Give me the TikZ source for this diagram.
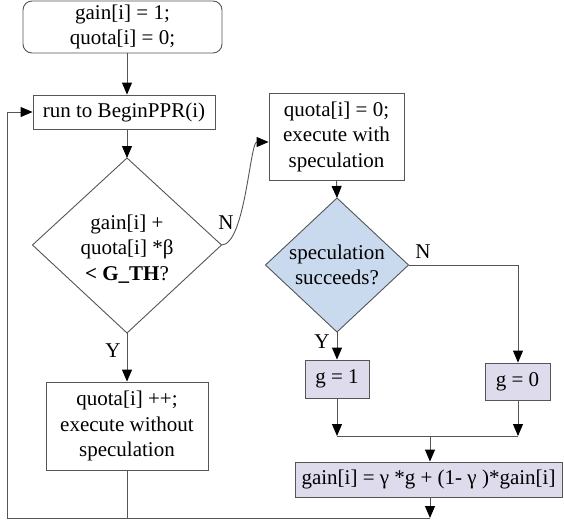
\documentclass[tikz,border=0pt]{standalone}
\usepackage{fontspec}
\setmainfont{Liberation Serif}
\usetikzlibrary{arrows.meta,shapes.geometric,calc}
\definecolor{dblue}{HTML}{C9DAEE}
\definecolor{lav}{HTML}{DDDBEC}
\definecolor{lin}{HTML}{555555}
\begin{document}
\begin{tikzpicture}[x=1pt,y=-1pt,
  every node/.style={font=\fontsize{21}{25.5}\selectfont},
  box/.style={draw=lin,line width=0.9pt,align=center,inner sep=0pt},
  conn/.style={draw=lin,line width=0.9pt},
  arr/.style={conn,-{Triangle[length=12pt,width=10pt,color=black]}},
  lbl/.style={inner sep=0pt}]
\useasboundingbox (0,0) rectangle (564,525);
% nodes
\node[box,rounded corners=9pt,minimum width=199pt,minimum height=52pt] (start) at (122.5,27) {gain[i] = 1;\\quota[i] = 0;};
\node[box,minimum width=182pt,minimum height=34pt] (run) at (124,112) {run to BeginPPR(i)};
\draw[conn,fill=white] (127,158) coordinate (d1n) -- (221.5,245) coordinate (d1e) -- (127,333) coordinate (d1s) -- (32.5,245) coordinate (d1w) -- cycle;
\node[align=center,inner sep=0pt] (d1) at (127,249) {gain[i] +\\quota[i] *β\\\textbf{< G\_TH}?};
\node[box,minimum width=162pt,minimum height=88pt] (quota) at (127,426) {quota[i] ++;\\execute without\\speculation};
\node[box,minimum width=135pt,minimum height=87pt] (exec) at (336.5,136.5) {quota[i] = 0;\\execute with\\speculation};
\draw[conn,fill=dblue] (337,198) coordinate (d2n) -- (408.5,265) coordinate (d2e) -- (337,332) coordinate (d2s) -- (265.5,265) coordinate (d2w) -- cycle;
\node[align=center,inner sep=0pt] (d2) at (337,265) {speculation\\succeeds?};
\node[box,fill=lav,minimum width=64pt,minimum height=38pt] (g1) at (337,379) {g = 1};
\node[box,fill=lav,minimum width=65pt,minimum height=37pt] (g0) at (517.5,381.5) {g = 0};
\node[box,fill=lav,minimum width=267pt,minimum height=35pt] (gain) at (428.5,479.5) {gain[i] = γ *g + (1- γ )*gain[i]};
% labels
\node[lbl] (n1) at (226,223) {N};
\node[lbl] (y1) at (113,351) {Y};
\node[lbl] (n2) at (423,252) {N};
\node[lbl] (y2) at (322,342) {Y};
% junction coordinates
\coordinate (jl) at (337,436);
\coordinate (jr) at (518,436);
\coordinate (jm) at (430,436);
\coordinate (bq) at (127,518);
\coordinate (bg) at (430,518);
\coordinate (bl) at (7,518);
% connectors
\draw[arr] (start.south -| d1n) -- (run.north -| d1n);
\draw[arr] (run.south -| d1n) -- (d1n);
\draw[arr] (d1s) -- (quota.north);
\draw[arr] (d1e) .. controls (245,245) and (250,142) .. (exec.west |- 0,142);
\draw[arr] (exec.south) -- (d2n);
\draw[arr] (d2s) -- (g1.north);
\draw[arr] (d2e) -- (d2e -| jr) -- (g0.north -| jr);
\draw[arr] (g1.south) -- (jl);
\draw[arr] (g0.south -| jr) -- (jr);
\draw[conn] (jl) -- (jr);
\draw[arr] (jm) -- (gain.north -| jm);
\draw[arr] (gain.south -| bg) -- (bg);
\draw[conn] (quota.south) -- (bq) -- (bg);
\draw[arr] (bq) -- (bl) |- (run.west);
\end{tikzpicture}
\end{document}
